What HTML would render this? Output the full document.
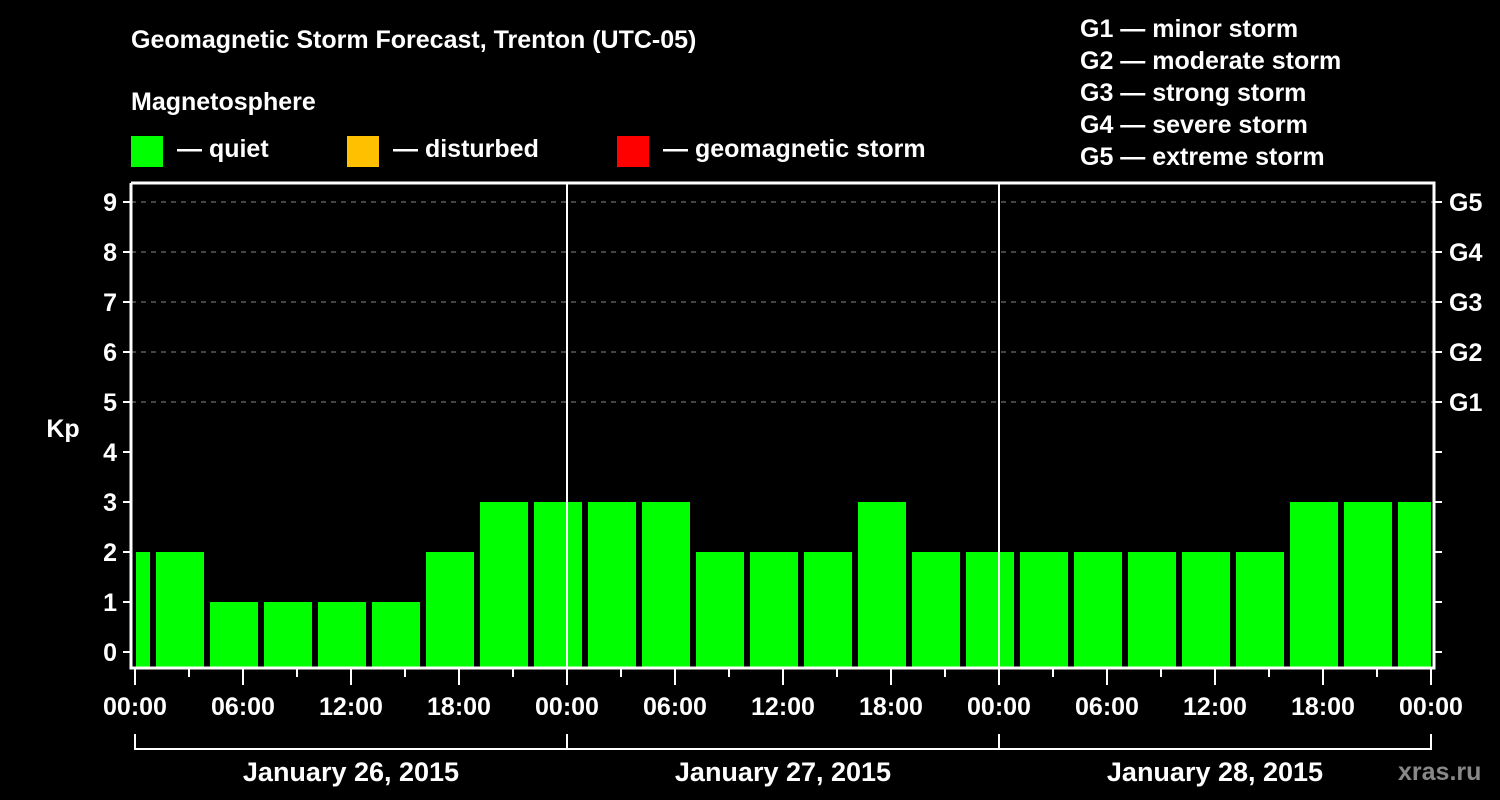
<!DOCTYPE html>
<html><head><meta charset="utf-8"><style>
body{margin:0;background:#000;}
svg{display:block;font-family:"Liberation Sans",Arial,sans-serif;font-weight:bold;}
</style></head><body>
<svg id="chart" width="1500" height="800" viewBox="0 0 1500 800">
<rect width="1500" height="800" fill="#000"/>
<text x="131" y="48" fill="#fff" font-size="25">Geomagnetic Storm Forecast, Trenton (UTC-05)</text>
<text x="131" y="110" fill="#fff" font-size="25">Magnetosphere</text>
<g><rect x="131" y="136" width="32" height="31" fill="#00ff00"/><text x="177" y="157" fill="#fff" font-size="25">— quiet</text></g>
<g><rect x="347" y="136" width="32" height="31" fill="#ffc000"/><text x="393" y="157" fill="#fff" font-size="25">— disturbed</text></g>
<g><rect x="617" y="136" width="32" height="31" fill="#ff0000"/><text x="663" y="157" fill="#fff" font-size="25">— geomagnetic storm</text></g>
<g fill="#fff" font-size="25">
<text x="1080" y="37">G1 — minor storm</text>
<text x="1080" y="69">G2 — moderate storm</text>
<text x="1080" y="101">G3 — strong storm</text>
<text x="1080" y="133">G4 — severe storm</text>
<text x="1080" y="165">G5 — extreme storm</text>
</g>
<text x="63" y="437" fill="#fff" font-size="25" text-anchor="middle">Kp</text>
<text x="1398" y="780" fill="#888" font-size="25">xras.ru</text>
<g id="grid"></g><g id="bars"></g><g id="axes"></g>
</svg>
<script>
const kpValues=[2,2,1,1,1,1,2,3,3,3,3,2,2,2,3,2,2,2,2,2,2,2,3,3,3];
const slotStartHours=[-2,1,4,7,10,13,16,19,22,25,28,31,34,37,40,43,46,49,52,55,58,61,64,67,70];
const yTicks=[0,1,2,3,4,5,6,7,8,9];
const gLabels=["G1","G2","G3","G4","G5"];
const gLevels=[5,6,7,8,9];
const xTickLabels=["00:00","06:00","12:00","18:00","00:00","06:00","12:00","18:00","00:00","06:00","12:00","18:00","00:00"];
const dayLabels=["January 26, 2015","January 27, 2015","January 28, 2015"];
const NS="http://www.w3.org/2000/svg";
const L=131,R=1434,T=183,B=668,X0=135,HOUR=18;
const x=h=>X0+h*HOUR, y=v=>652-v*50;
function mk(tag,attrs,parent,text){const e=document.createElementNS(NS,tag);for(const k in attrs)e.setAttribute(k,attrs[k]);if(text!==undefined)e.textContent=text;parent.appendChild(e);return e;}
const grid=document.getElementById('grid'),bars=document.getElementById('bars'),axes=document.getElementById('axes');
yTicks.forEach(v=>{
 if(v>=5){const g=mk('line',{x1:L,x2:R,y1:y(v),y2:y(v),stroke:'#888','stroke-dasharray':'5,5','stroke-width':1},grid);
 
 }
 mk('line',{x1:L-8,x2:L,y1:y(v),y2:y(v),stroke:'#fff','stroke-width':2},axes);
 mk('line',{x1:R,x2:R+8,y1:y(v),y2:y(v),stroke:'#fff','stroke-width':2},axes);
 const t=mk('text',{x:L-14,y:y(v)+9,fill:'#fff','font-size':25,'text-anchor':'end'},axes,String(v));
 
 
});
gLabels.forEach((g,i)=>{const t=mk('text',{x:1449,y:y(gLevels[i])+9,fill:'#fff','font-size':25},axes,g);
 
 });
kpValues.forEach((v,i)=>{
 let x1=x(slotStartHours[i])+3,x2=x(slotStartHours[i]+3)-3;
 x1=Math.max(x1,X0+1);x2=Math.min(x2,x(72));
 if(x2<=x1)return;
 const r=mk('rect',{x:x1,y:y(v),width:x2-x1,height:B-y(v),fill:v>=5?'#ff0000':(v>=4?'#ffc000':'#00ff00')},bars);
 
 
});
[24,48].forEach(h=>mk('line',{x1:x(h),x2:x(h),y1:T,y2:B,stroke:'#fff','stroke-width':2},axes));
mk('polyline',{points:`${L},${T} ${R},${T} ${R},${B} ${L},${B} ${L},${T}`,fill:'none',stroke:'#fff','stroke-width':3},axes);
for(let h=0;h<=72;h+=3){mk('line',{x1:x(h),x2:x(h),y1:B,y2:h%6==0?B+17:B+9,stroke:'#fff','stroke-width':2},axes);}
xTickLabels.forEach((s,i)=>{const t=mk('text',{x:x(i*6),y:715,fill:'#fff','font-size':25,'text-anchor':'middle'},axes,s);
 
 });
mk('line',{x1:x(0),x2:x(72),y1:749,y2:749,stroke:'#fff','stroke-width':2},axes);
[0,24,48,72].forEach(h=>mk('line',{x1:x(h),x2:x(h),y1:734,y2:750,stroke:'#fff','stroke-width':2},axes));
dayLabels.forEach((s,i)=>{const t=mk('text',{x:x(i*24+12),y:781,fill:'#fff','font-size':27,'text-anchor':'middle'},axes,s);
 
 });
</script>
</body></html>
